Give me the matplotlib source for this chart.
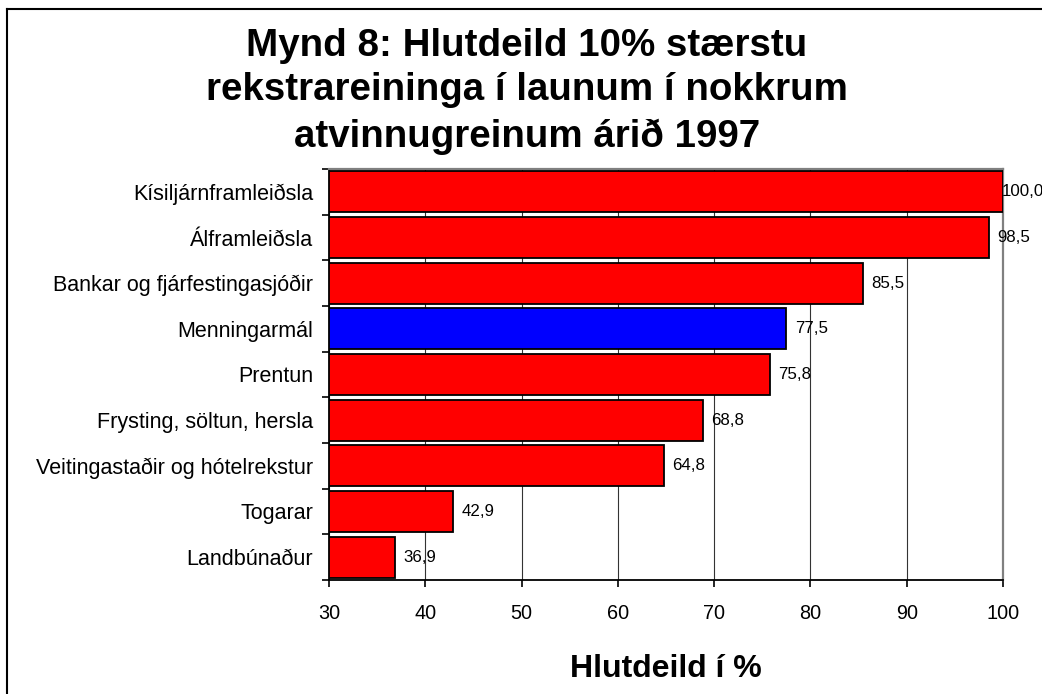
import numpy as np
import matplotlib
matplotlib.use("Agg")
import matplotlib.pyplot as plt
from matplotlib.lines import Line2D

plt.rcParams['font.family'] = ['Liberation Sans', 'DejaVu Sans']

# data, top to bottom as in the chart
categories = ["Kísiljárnframleiðsla", "Álframleiðsla", "Bankar og fjárfestingasjóðir",
              "Menningarmál", "Prentun", "Frysting, söltun, hersla",
              "Veitingastaðir og hótelrekstur", "Togarar", "Landbúnaður"]
values = [100.0, 98.5, 85.5, 77.5, 75.8, 68.8, 64.8, 42.9, 36.9]
highlight = "Menningarmál"
x_ticks = [30, 40, 50, 60, 70, 80, 90, 100]
title_lines = ["Mynd 8: Hlutdeild 10% stærstu",
               "rekstrareininga í launum í nokkrum",
               "atvinnugreinum árið 1997"]
x_label = "Hlutdeild í %"

XMIN, XMAX = x_ticks[0], x_ticks[-1]

fig = plt.figure(figsize=(10.42, 6.94), dpi=100)
ax = fig.add_axes([329 / 1042, 114 / 694, 674 / 1042, 411 / 694])

y = np.arange(len(categories))
vals = np.array(values)
colors = ["#0000FF" if c == highlight else "#FF0000" for c in categories]
ax.barh(y, vals - XMIN, left=XMIN, height=0.9, color=colors,
        edgecolor="black", linewidth=1.3, zorder=3)

for yi, v in zip(y, values):
    # label at the axis end gets pulled in so it stays inside the picture
    dx = -1 if v >= XMAX else 6
    ax.annotate("{0:.1f}".format(v).replace(".", ","), (v, yi),
                xytext=(dx, 0), textcoords="offset points",
                va="center", ha="left", fontsize=12.2, zorder=4)

ax.set_xlim(XMIN, XMAX)
ax.set_ylim(len(categories) - 0.5, -0.5)
ax.set_xticks(x_ticks)
ax.set_xticklabels([str(t) for t in x_ticks], fontsize=14.3)
ax.set_yticks(y)
ax.set_yticklabels(categories, fontsize=15.5)
ax.set_yticks(np.arange(len(categories) + 1) - 0.5, minor=True)
ax.tick_params(axis="y", which="major", length=0, pad=11.5)
ax.tick_params(axis="y", which="minor", length=5, width=1.2, direction="out")
ax.tick_params(axis="x", which="major", length=5, width=1.2, direction="out", pad=12)

ax.xaxis.grid(True, color="#333333", linewidth=0.8)
ax.set_axisbelow(True)

for side in ["left", "bottom"]:
    ax.spines[side].set_color("black")
    ax.spines[side].set_linewidth(1.3)
for side in ["top", "right"]:
    ax.spines[side].set_color("#808080")
    ax.spines[side].set_linewidth(1.6)

ax.set_xlabel(x_label, fontsize=23, fontweight="bold")
ax.xaxis.label.set_va("baseline")
ax.xaxis.set_label_coords(0.5, -(677 - 580) / 411)

# title, one text per line
title_baselines = [56, 100, 147]
for line, b in zip(title_lines, title_baselines):
    fig.text(527 / 1042, 1 - b / 694, line, ha="center", va="baseline",
             fontsize=27.7, fontweight="bold")

# outer frame (only left and top edges visible in the original)
fig.add_artist(Line2D([7 / 1042, 7 / 1042], [0, 1 - 9 / 694], color="black",
                      linewidth=1.5, transform=fig.transFigure))
fig.add_artist(Line2D([7 / 1042, 1], [1 - 9 / 694, 1 - 9 / 694], color="black",
                      linewidth=1.5, transform=fig.transFigure))

fig.savefig("out.png", dpi=100)
